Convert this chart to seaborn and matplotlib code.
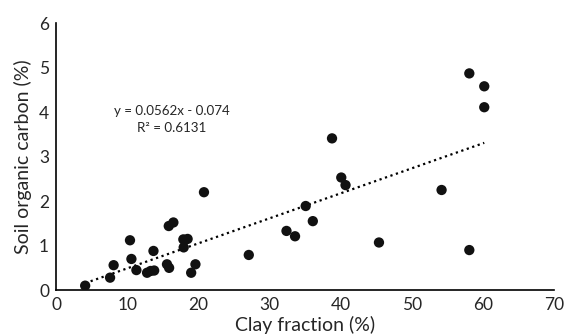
import numpy as np
import pandas as pd
import matplotlib
matplotlib.use("Agg")
import matplotlib.pyplot as plt
import seaborn as sns

# dados
clay = [4.1, 7.6, 8.1, 10.4, 10.6, 11.3, 12.8, 13.7, 13.3, 13.8, 15.6, 15.9,
        15.85, 16.5, 17.9, 18.5, 17.95, 19.0, 19.6, 20.8, 27.1, 32.4, 33.6,
        35.1, 36.1, 40.1, 40.7, 54.2, 45.4, 58.1, 58.1, 60.2, 60.2, 38.8]
soc = [0.10, 0.28, 0.56, 1.12, 0.70, 0.45, 0.39, 0.88, 0.43, 0.44, 0.58, 0.50,
       1.44, 1.52, 1.14, 1.15, 0.96, 0.39, 0.58, 2.20, 0.79, 1.33, 1.21,
       1.89, 1.55, 2.53, 2.36, 2.25, 1.07, 0.90, 4.87, 4.58, 4.11, 3.41]
slope = 0.0562
intercept = -0.074
r2 = 0.6131
xticks = [0, 10, 20, 30, 40, 50, 60, 70]
yticks = [0, 1, 2, 3, 4, 5, 6]

df = pd.DataFrame({"clay": clay, "soc": soc})

sns.set_style("white")
plt.rcParams["font.family"] = ["Lato", "DejaVu Sans"]

fig = plt.figure(figsize=(5.68, 3.35), dpi=100)
ax = fig.add_axes([0.0986, 0.134, 0.8767, 0.797])

sns.scatterplot(data=df, x="clay", y="soc", ax=ax, color="#111111",
                s=55, edgecolor="none", zorder=3)

# linha de tendencia
xl = np.array([min(clay), max(clay)])
ax.plot(xl, slope * xl + intercept, color="black", linestyle=(0, (1, 1.6)),
        linewidth=1.6, zorder=2)

ax.text(16.3, 4.02, f"y = {slope}x - {abs(intercept)}", ha="center",
        va="center", fontsize=9.6)
ax.text(16.3, 3.64, f"R² = {r2}", ha="center", va="center", fontsize=9.6)

ax.set_xlim(0, 70)
ax.set_ylim(0, 6)
ax.set_xticks(xticks)
ax.set_yticks(yticks)
ax.tick_params(axis="both", length=0, labelsize=12.5, pad=5)
ax.set_xlabel("Clay fraction (%)", fontsize=14, labelpad=2)
ax.set_ylabel("Soil organic carbon (%)", fontsize=14, labelpad=5)

for s in ["top", "right"]:
    ax.spines[s].set_visible(False)
for s in ["left", "bottom"]:
    ax.spines[s].set_color("black")
    ax.spines[s].set_linewidth(1.2)

fig.savefig("out.png", dpi=100)
